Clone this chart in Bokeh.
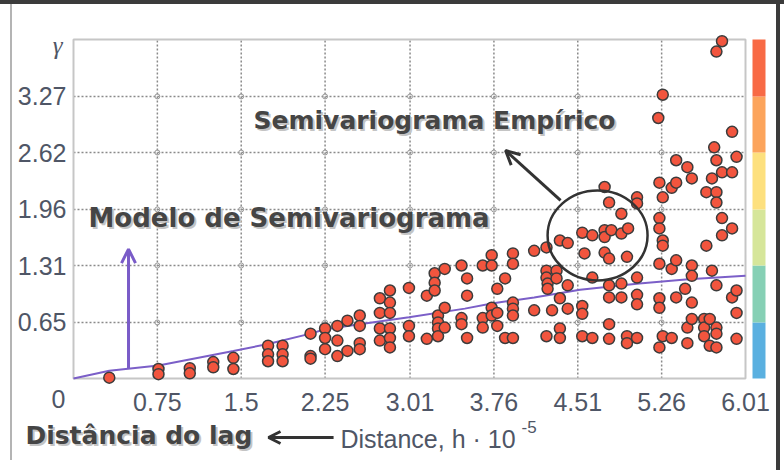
from bokeh.plotting import figure
from bokeh.models import Range1d, FixedTicker, Label, Arrow, OpenHead
from bokeh.embed import file_html
from bokeh.resources import INLINE

# ---------------- data ----------------
x_ticks = [0.0, 0.75, 1.5, 2.25, 3.01, 3.76, 4.51, 5.26, 6.01]
y_ticks = [0.65, 1.31, 1.96, 2.62, 3.27, 3.93]
y_top_label = "γ"
x_max = x_ticks[-1]
y_max = y_ticks[-1]

# model semivariogram
model_x = [0.0, 0.32, 0.76, 1.43, 1.74, 2.12, 2.25, 2.56, 3.0, 3.5, 3.74, 4.12, 4.53, 5.06, 5.5, 6.01]
model_y = [0.0, 0.09, 0.15, 0.32, 0.40, 0.52, 0.57, 0.63, 0.71, 0.81, 0.87, 0.94, 1.03, 1.10, 1.15, 1.19]

# empirical semivariogram (lag distance, gamma)
emp_x = [0.32,
         0.76, 0.76, 1.04, 1.04, 1.25, 1.25, 1.43, 1.43,
         1.74, 1.74, 1.74, 1.87, 1.87, 1.87, 2.12, 2.12, 2.12,
         2.25, 2.25, 2.25, 2.36, 2.36, 2.36, 2.45, 2.45,
         2.56, 2.56, 2.56, 2.56, 2.74, 2.74, 2.74, 2.74,
         2.83, 2.83, 2.83, 2.83, 2.83, 2.83, 3.00, 3.00, 3.00,
         3.16, 3.16, 3.23, 3.23, 3.23, 3.26, 3.26, 3.26, 3.26,
         3.32, 3.32, 3.32, 3.47, 3.47, 3.47, 3.52, 3.52, 3.52,
         3.66, 3.66, 3.66, 3.74, 3.74, 3.74, 3.74, 3.79, 3.79, 3.79,
         3.86, 3.86, 3.93, 3.93, 3.93, 3.93, 3.93, 3.93,
         4.12, 4.12, 4.23, 4.23, 4.23, 4.23, 4.24, 4.24, 4.28,
         4.32, 4.32, 4.35, 4.35, 4.35, 4.35, 4.42, 4.42, 4.42,
         4.55, 4.55, 4.55, 4.55, 4.57, 4.64, 4.64, 4.64,
         4.75, 4.75, 4.75, 4.75, 4.79, 4.79, 4.79, 4.79, 4.79, 4.79, 4.81,
         4.90, 4.90, 4.90, 4.90, 4.95, 4.95, 4.95, 4.96,
         5.04, 5.04, 5.04, 5.04, 5.04, 5.04, 5.23,
         5.24, 5.24, 5.24, 5.24, 5.24, 5.24, 5.24,
         5.27, 5.27, 5.27, 5.27, 5.27, 5.35, 5.35, 5.35,
         5.39, 5.39, 5.39, 5.39, 5.47, 5.49, 5.49, 5.49,
         5.53, 5.53, 5.53, 5.53, 5.53, 5.64, 5.64, 5.64, 5.66, 5.66,
         5.69, 5.69, 5.71, 5.71, 5.73,
         5.75, 5.75, 5.75, 5.75, 5.75, 5.75, 5.75, 5.75,
         5.80, 5.80, 5.80, 5.80, 5.89, 5.89, 5.89, 5.89,
         5.93, 5.93, 5.93, 5.93]
emp_y = [0.01,
         0.11, 0.05, 0.12, 0.06, 0.19, 0.13, 0.24, 0.11,
         0.38, 0.28, 0.20, 0.38, 0.28, 0.20, 0.52, 0.26, 0.23,
         0.58, 0.47, 0.34, 0.61, 0.44, 0.26, 0.67, 0.32,
         0.73, 0.61, 0.41, 0.34, 0.93, 0.76, 0.58, 0.44,
         1.02, 0.88, 0.76, 0.58, 0.47, 0.36, 1.05, 0.61, 0.49,
         0.96, 0.46, 1.22, 1.11, 1.02, 0.73, 0.65, 0.58, 0.49,
         1.27, 0.82, 0.59, 1.31, 0.70, 0.63, 1.16, 0.96, 0.47,
         1.31, 0.70, 0.59, 1.43, 1.31, 0.82, 0.73, 1.04, 0.76, 0.61,
         1.16, 0.47, 1.45, 1.33, 0.88, 0.81, 0.73, 0.47,
         1.48, 0.79, 1.52, 1.25, 1.17, 0.49, 1.10, 1.04, 0.79,
         1.25, 1.16, 1.60, 0.93, 0.58, 0.47, 1.57, 1.08, 0.81,
         1.69, 0.84, 0.75, 0.49, 1.45, 1.66, 1.17, 0.47,
         2.22, 1.72, 1.64, 1.46, 2.04, 1.39, 1.08, 0.94, 0.63, 0.46, 1.72,
         1.91, 1.68, 1.10, 0.94, 1.41, 0.49, 0.41, 1.74,
         2.10, 2.03, 1.17, 0.97, 0.86, 0.47, 3.02,
         2.27, 1.86, 1.74, 1.33, 0.93, 0.82, 0.36,
         3.29, 2.10, 1.60, 1.54, 0.49, 2.21, 1.27, 0.47,
         2.53, 2.27, 1.37, 0.94, 1.04, 2.45, 0.59, 0.41,
         2.32, 1.31, 1.19, 0.88, 0.69, 0.69, 0.59, 0.49, 2.16, 1.54,
         0.69, 0.38, 2.32, 1.25, 2.68,
         3.79, 2.53, 2.16, 2.04, 1.08, 0.59, 0.52, 0.36,
         3.91, 2.39, 1.86, 1.66, 2.86, 2.39, 1.74, 0.94,
         2.57, 1.02, 0.76, 0.46]

# colour scale (low -> high), one band per y-interval
cbar_colors = ["#5ab0e0", "#86d0b5", "#d6e69a", "#fde07e", "#fca45c", "#f86a45"]
cbar_bounds = [0.0] + y_ticks

# ---------------- figure ----------------
# The frame fills the whole canvas; axes are pinned at x=0 / y=0 so that the
# texts placed under the axis are not clipped.
W, H = 784, 470
px_x = (x_max - 0) / 672.0          # data per pixel horizontally
px_y = (y_max - 0) / 339.0          # data per pixel vertically
p = figure(width=W, height=H, output_backend="svg", toolbar_location=None,
           x_range=Range1d(-73 * px_x, (W - 73) * px_x),
           y_range=Range1d(-(H - 378) * px_y, 378 * px_y),
           min_border=0, min_border_left=0, min_border_right=0,
           min_border_top=0, min_border_bottom=0)
p.border_fill_color = None
p.background_fill_color = None
p.outline_line_color = None
p.styles = {"background": (
    "linear-gradient(#3b3b3b,#3b3b3b) 0px 0px / 100% 4px no-repeat, "
    "linear-gradient(#3b3b3b,#3b3b3b) 776px 0px / 4px 100% no-repeat, "
    "linear-gradient(#b4b4b4,#b4b4b4) 10px 4px / 2px 456px no-repeat, "
    "#ffffff")}
p.grid.visible = False

tick_color = "#4f5666"
p.xaxis.fixed_location = 0
p.yaxis.fixed_location = 0
p.xaxis.ticker = FixedTicker(ticks=x_ticks)
p.xaxis.major_label_overrides = {x_ticks[0]: ""}
p.yaxis.ticker = FixedTicker(ticks=y_ticks)
p.yaxis.major_label_overrides = {y_ticks[-1]: ""}
for ax in (p.xaxis[0], p.yaxis[0]):
    ax.axis_line_color = None
    ax.major_tick_line_color = None
    ax.minor_tick_line_color = None
    ax.major_label_text_font = "Liberation Sans"
    ax.major_label_text_font_size = "25px"
    ax.major_label_text_color = tick_color
p.xaxis.major_label_standoff = 8
p.yaxis.major_label_standoff = 1

# dotted grid (inside the plot box only)
gxs = x_ticks[1:-1]
gys = y_ticks[:-1]
grid_kw = dict(line_color="#8a8a8a", line_dash="2 2", line_width=1.5)
p.segment(x0=gxs, y0=[0] * len(gxs), x1=gxs, y1=[y_max] * len(gxs), **grid_kw)
p.segment(x0=[0] * len(gys), y0=gys, x1=[x_max] * len(gys), y1=gys, **grid_kw)
gx = [xt for xt in gxs for yt in gys]
gy = [yt for xt in gxs for yt in gys]
p.scatter(gx, gy, marker="circle", size=5, fill_alpha=0, line_color="#9a9a9a", line_width=1)

# plot box
p.quad(left=[0], right=[x_max], bottom=[0], top=[y_max], fill_alpha=0,
       line_color="#c6c6c6", line_width=2)

# colour bar to the right of the box
cb_left = x_max + 7 * px_x
cb_right = x_max + 20 * px_x
p.quad(left=[cb_left] * 6, right=[cb_right] * 6, bottom=cbar_bounds[:-1],
       top=cbar_bounds[1:], fill_color=cbar_colors, line_color=None)

# model line
p.line(model_x, model_y, line_color="#7b5fc8", line_width=2)

# empirical points
p.scatter(emp_x, emp_y, marker="circle", size=11, fill_color="#f2553e",
          line_color="#3c3c3c", line_width=1.5)

# circle around the empirical cluster
circle_cx, circle_cy, circle_w, circle_h = 4.687, 1.658, 0.894, 1.043
p.ellipse(x=[circle_cx], y=[circle_cy], width=[circle_w], height=[circle_h],
          fill_alpha=0, line_color="#333333", line_width=2.5)

# arrows
p.add_layout(Arrow(x_start=4.356, y_start=2.064, x_end=3.864, y_end=2.643,
                   line_color="#333333", line_width=3,
                   end=OpenHead(size=14, line_color="#333333", line_width=3)))
p.add_layout(Arrow(x_start=0.492, y_start=0.12, x_end=0.492, y_end=1.50,
                   line_color="#7a5cc8", line_width=3,
                   end=OpenHead(size=14, line_color="#7a5cc8", line_width=3)))
p.add_layout(Arrow(x_start=2.326, y_start=-0.684, x_end=1.744, y_end=-0.684,
                   line_color="#333333", line_width=3,
                   end=OpenHead(size=12, line_color="#333333", line_width=3)))

# bold annotation texts (with soft shadow)
def bold_label(txt, x, y, size="25px"):
    for dx, dy, col in ((2, -2, "#c4c4c4"), (0, 0, "#454545")):
        p.add_layout(Label(x=x, y=y, x_offset=dx, y_offset=dy, text=txt,
                           text_font="DejaVu Sans", text_font_style="bold",
                           text_font_size=size, text_color=col,
                           text_baseline="middle", text_align="left"))

bold_label("Semivariograma Empírico", 1.61, 2.99)
bold_label("Modelo de Semivariograma", 0.134, 1.855, "26px")
bold_label("Distância do lag", -0.43, -0.661)

# x tick label "0" (shifted left as in the original) and the γ axis symbol
p.add_layout(Label(x=-0.134, y=-0.13, text="0", text_font="Liberation Sans",
                   text_font_size="25px", text_color=tick_color,
                   text_align="center", text_baseline="top"))
p.add_layout(Label(x=-0.098, y=3.86, text=y_top_label, text_font="Liberation Serif",
                   text_font_style="italic", text_font_size="25px", text_color=tick_color,
                   text_align="right", text_baseline="middle"))

# axis title
p.add_layout(Label(x=2.388, y=-0.707, text="Distance, h · 10", text_font="Liberation Sans",
                   text_font_size="25px", text_color=tick_color,
                   text_align="left", text_baseline="middle"))
p.add_layout(Label(x=4.007, y=-0.568, text="-5", text_font="Liberation Sans",
                   text_font_size="17px", text_color=tick_color,
                   text_align="left", text_baseline="middle"))

open("out.html", "w").write(file_html(p, INLINE))
